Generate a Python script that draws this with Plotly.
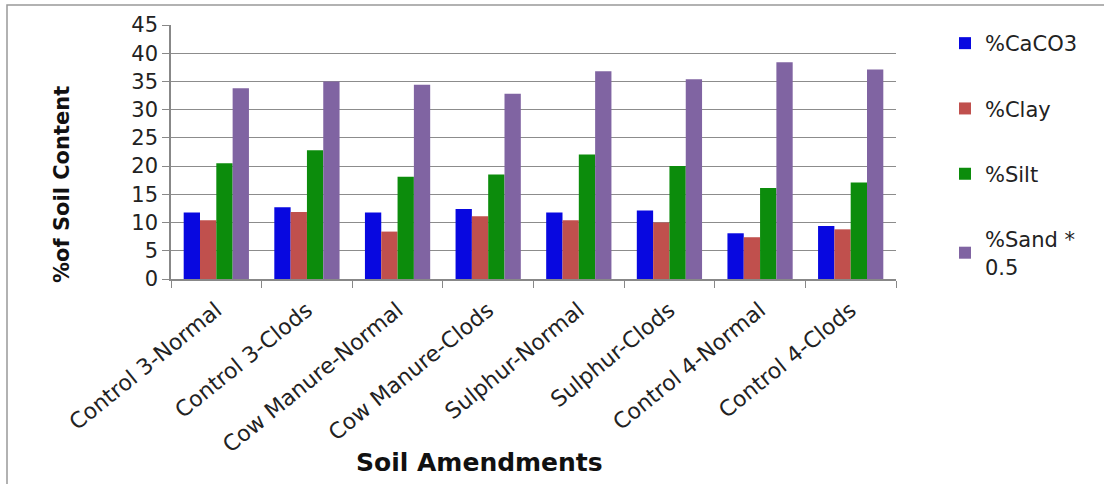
import plotly.graph_objects as go

categories = ["Control 3-Normal", "Control 3-Clods", "Cow Manure-Normal", "Cow Manure-Clods",
              "Sulphur-Normal", "Sulphur-Clods", "Control 4-Normal", "Control 4-Clods"]
caco3 = [11.8, 12.7, 11.8, 12.4, 11.8, 12.15, 8.1, 9.4]
clay = [10.4, 11.85, 8.4, 11.1, 10.4, 10.0, 7.4, 8.8]
silt = [20.5, 22.8, 18.1, 18.5, 22.05, 20.0, 16.1, 17.1]
sand_half = [33.8, 35.0, 34.4, 32.8, 36.8, 35.4, 38.4, 37.1]

series_names = ["%CaCO3", "%Clay", "%Silt", "%Sand *<br>0.5"]
series_values = [caco3, clay, silt, sand_half]
colors = ["#0808E0", "#C0504D", "#0C8C0C", "#8064A2"]

fig = go.Figure()
for i, (name, vals, col) in enumerate(zip(series_names, series_values, colors)):
    fig.add_trace(go.Bar(x=categories, y=vals, name=name, marker_color=col,
                         marker_line_width=0, legendgroup=f"g{i}"))

W, H = 1104, 484
L, R, T, B = 171, 896, 25, 279

fig.update_layout(
    width=W, height=H,
    margin=dict(l=L, r=W - R, t=T, b=H - B, autoexpand=False),
    paper_bgcolor="white", plot_bgcolor="white",
    barmode="group", bargap=0.28, bargroupgap=0,
    font=dict(family="DejaVu Sans", size=20, color="#222"),
    showlegend=True,
    legend=dict(x=(945 - L) / (R - L), y=1 - 23 / H, yref="container", xanchor="left", yanchor="top",
                font=dict(family="DejaVu Sans", size=21, color="#222"),
                tracegroupgap=35, itemwidth=30, bgcolor="rgba(0,0,0,0)", maxheight=440),
    xaxis=dict(type="category", tickangle=-39, showgrid=False, automargin=False,
               showline=True, linecolor="#888", linewidth=1.5,
               ticks="outside", tickson="boundaries", ticklen=7, tickcolor="#888",
               ticklabelstandoff=8,
               tickfont=dict(family="DejaVu Sans", size=22, color="#222")),
    yaxis=dict(range=[0, 45], dtick=5, showgrid=True, gridcolor="#8c8c8c", gridwidth=1.2,
               showline=True, linecolor="#888", linewidth=1.5, zeroline=False, automargin=False,
               ticks="outside", ticklen=7, tickcolor="#888",
               tickfont=dict(family="DejaVu Sans", size=21, color="#222")),
    shapes=[dict(type="rect", xref="paper", yref="paper",
                 x0=(7 - L) / (R - L), x1=(W + 20 - L) / (R - L),
                 y0=(B - (H + 20)) / (B - T), y1=(B - 5) / (B - T),
                 line=dict(color="#999", width=1.5), fillcolor="rgba(0,0,0,0)", layer="below")],
    annotations=[
        dict(text="<b>%of Soil Content</b>", xref="paper", yref="paper",
             x=(62 - L) / (R - L), y=(B - 185) / (B - T), textangle=-90, showarrow=False,
             font=dict(family="DejaVu Sans", size=21, color="#111"), xanchor="center", yanchor="middle"),
        dict(text="<b>Soil Amendments</b>", xref="paper", yref="paper",
             x=(479 - L) / (R - L), y=(B - 462) / (B - T), showarrow=False,
             font=dict(family="DejaVu Sans", size=25, color="#111"), xanchor="center", yanchor="middle"),
    ],
)

fig.write_html("out.html")
